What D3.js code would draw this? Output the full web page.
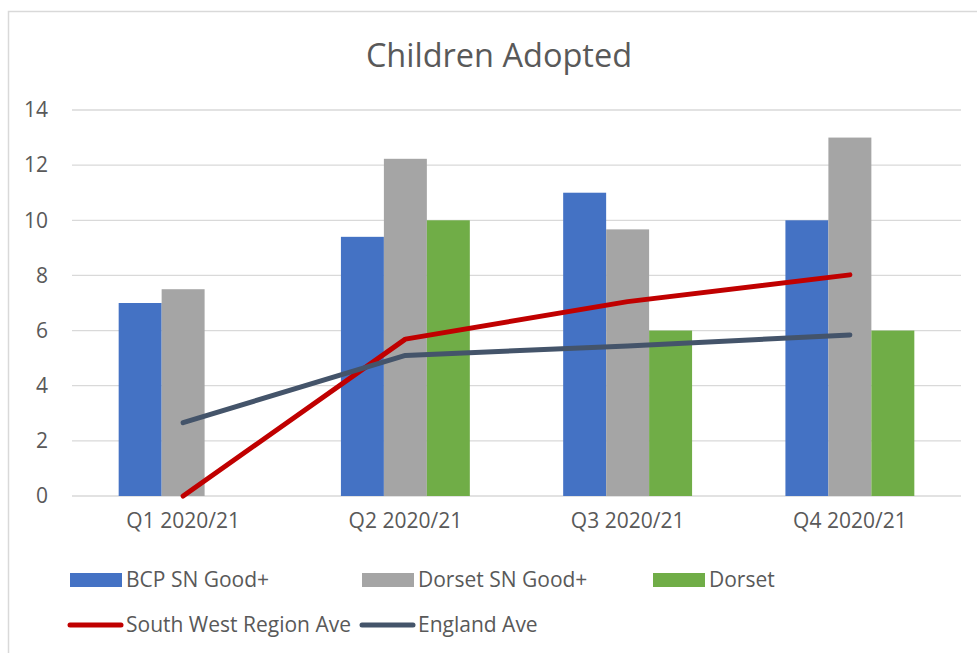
<!DOCTYPE html>
<html>
<head>
<meta charset="utf-8">
<script src="https://cdn.jsdelivr.net/npm/d3@7"></script>
<style>
  body { margin: 0; background: #fff; }
  #content { width: 977px; height: 653px; }
  text { font-family: "Open Sans", sans-serif; fill: #595959; }
</style>
</head>
<body>
<div id="content"></div>
<script>
var categories = ["Q1 2020/21", "Q2 2020/21", "Q3 2020/21", "Q4 2020/21"];
var barSeries = ["BCP SN Good+", "Dorset SN Good+", "Dorset"];
var bcpGood = [7, 9.4, 11, 10];
var dorsetGood = [7.5, 12.23, 9.67, 13];
var dorset = [null, 10, 6, 6];
var southWest = [0, 5.69, 7.05, 8.02];
var englandAve = [2.66, 5.1, 5.44, 5.84];
var yTicks = [0, 2, 4, 6, 8, 10, 12, 14];

(function(d3) {
    var width = 977, height = 653;
    var margin = {top: 110, right: 16, bottom: 157, left: 72};
    var barColors = ["#4472C4", "#A5A5A5", "#70AD47"];
    var fs = "21px";

    var svg = d3.select("#content").append("svg")
        .attr("viewBox", [0, 0, width, height])
        .attr("width", width).attr("height", height);

    // chart border (runs off right/bottom edge)
    svg.append("rect")
        .attr("x", 8.5).attr("y", 11.5)
        .attr("width", 990).attr("height", 700)
        .attr("fill", "none").attr("stroke", "#D9D9D9").attr("stroke-width", 1.5);

    svg.append("text")
        .attr("x", 499).attr("y", 67)
        .attr("text-anchor", "middle")
        .style("font-size", "32.5px")
        .text("Children Adopted");

    var x = d3.scaleBand()
        .domain(categories)
        .range([margin.left, width - margin.right]);

    var groupW = x.bandwidth() * 0.58;
    var x1 = d3.scaleBand()
        .domain(barSeries)
        .range([(x.bandwidth() - groupW) / 2, (x.bandwidth() + groupW) / 2]);

    var y = d3.scaleLinear()
        .domain([0, 14])
        .range([496, 110]);

    // gridlines
    svg.append("g")
        .selectAll("line")
        .data(yTicks)
        .join("line")
        .attr("x1", margin.left).attr("x2", width - margin.right)
        .attr("y1", function(d) { return y(d); })
        .attr("y2", function(d) { return y(d); })
        .attr("stroke", "#D9D9D9").attr("stroke-width", 1.3);

    var yAxis = svg.append("g")
        .attr("transform", "translate(48,0)")
        .call(d3.axisLeft(y).tickValues(yTicks).tickSize(0).tickPadding(0));
    yAxis.select(".domain").remove();
    yAxis.selectAll("text")
        .style("font-size", fs)
        .attr("fill", "#595959");

    var xAxis = svg.append("g")
        .attr("transform", "translate(0,508)")
        .call(d3.axisBottom(x).tickSize(0).tickPadding(0));
    xAxis.select(".domain").remove();
    xAxis.selectAll("text")
        .style("font-size", fs)
        .attr("dy", "0.95em")
        .attr("fill", "#595959");

    var barData = [bcpGood, dorsetGood, dorset];
    barData.forEach(function(values, si) {
        svg.append("g")
            .selectAll("rect")
            .data(values.map(function(v, i) { return {cat: categories[i], v: v}; })
                .filter(function(d) { return d.v !== null; }))
            .join("rect")
            .attr("x", function(d) { return x(d.cat) + x1(barSeries[si]); })
            .attr("width", x1.bandwidth())
            .attr("y", function(d) { return y(d.v); })
            .attr("height", function(d) { return y(0) - y(d.v); })
            .attr("fill", barColors[si]);
    });

    function drawLine(values, stroke) {
        svg.append("path")
            .datum(values)
            .attr("fill", "none")
            .attr("stroke", stroke)
            .attr("stroke-width", 5)
            .attr("stroke-linecap", "round")
            .attr("stroke-linejoin", "round")
            .attr("d", d3.line()
                .x(function(d, i) { return x(categories[i]) + x.bandwidth() / 2; })
                .y(function(d) { return y(d); })
            );
    }
    drawLine(southWest, "#C00000");
    drawLine(englandAve, "#44546A");

    // legend
    var legendBars = [
        {name: barSeries[0], color: barColors[0], x: 70},
        {name: barSeries[1], color: barColors[1], x: 362},
        {name: barSeries[2], color: barColors[2], x: 653}
    ];
    var lg = svg.append("g");
    legendBars.forEach(function(d) {
        lg.append("rect")
            .attr("x", d.x).attr("y", 573)
            .attr("width", 52).attr("height", 14)
            .attr("fill", d.color);
        lg.append("text")
            .attr("x", d.x + 56).attr("y", 580)
            .attr("dy", "0.35em")
            .style("font-size", fs)
            .text(d.name);
    });
    var legendLines = [
        {name: "South West Region Ave", color: "#C00000", x: 70},
        {name: "England Ave", color: "#44546A", x: 362}
    ];
    legendLines.forEach(function(d) {
        lg.append("line")
            .attr("x1", d.x).attr("x2", d.x + 51)
            .attr("y1", 625).attr("y2", 625)
            .attr("stroke", d.color).attr("stroke-width", 5)
            .attr("stroke-linecap", "round");
        lg.append("text")
            .attr("x", d.x + 56).attr("y", 625)
            .attr("dy", "0.35em")
            .style("font-size", fs)
            .text(d.name);
    });
})(d3);
</script>
</body>
</html>
